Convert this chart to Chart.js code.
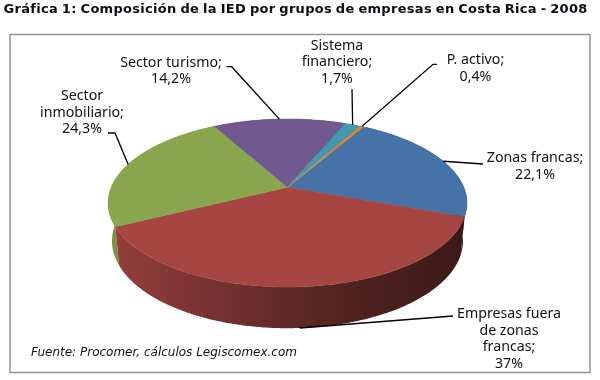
<!DOCTYPE html>
<html>
<head>
<meta charset="utf-8">
<style>
  html, body { margin: 0; padding: 0; background: #fff; }
  canvas { display: block; }
</style>
<script src="https://cdn.jsdelivr.net/npm/chart.js@4/dist/chart.umd.js"></script>
</head>
<body>
<canvas id="graficaIED" width="600" height="380"></canvas>
<script>
const titulo = 'Gráfica 1: Composición de la IED por grupos de empresas en Costa Rica - 2008';
const fuente = 'Fuente: Procomer, cálculos Legiscomex.com';

const categorias = ['Zonas francas', 'Empresas fuera de zonas francas', 'Sector inmobiliario', 'Sector turismo', 'Sistema financiero', 'P. activo'];
const valores = [22.1, 37, 24.3, 14.2, 1.7, 0.4];
const etiquetas = [
    ['Zonas francas;', '22,1%'],
    ['Empresas fuera', 'de zonas', 'francas;', '37%'],
    ['Sector', 'inmobiliario;', '24,3%'],
    ['Sector turismo;', '14,2%'],
    ['Sistema', 'financiero;', '1,7%'],
    ['P. activo;', '0,4%']
];
const colores = ['#4572A7', '#A54643', '#89A54E', '#71588F', '#4198AF', '#DB843D'];

// Posicion de cada etiqueta (centro de la primera linea) y codo de su linea guia
const posEtiquetas = [[535, 158], [509, 314], [82, 96], [171, 62.5], [337, 45.5], [475.5, 60]];
const guias = [
    [[483, 164]],
    [[453, 316]],
    [[108, 133], [115, 133]],
    [[226.5, 66.7], [231.7, 66.7]],
    [[352, 89]],
    [[437, 64.3], [433, 64.3]]
];

// Proyeccion en perspectiva del circulo: el vertice no cae en el centro de la elipse
const vertice = { x: 287.5, y: 187.3 };
const persp = { A: 176.3, B: 81.07, k: -0.187 };
const base = { y: 224.5, sx: 0.978, sy: 1.04 };

function proyectar(angulo, abajo) {
    const u = Math.cos(angulo), v = Math.sin(angulo);
    const w = 1 + persp.k * v;
    const x = persp.A * u / w, y = persp.B * v / w;
    if (abajo) return [vertice.x + x * base.sx, base.y + y * base.sy];
    return [vertice.x + x, vertice.y + y];
}

function oscurecer(hex, f) {
    const n = parseInt(hex.slice(1), 16);
    return `rgb(${Math.round((n >> 16) * f)},${Math.round(((n >> 8) & 255) * f)},${Math.round((n & 255) * f)})`;
}

function puntosArco(arco, abajo) {
    const pts = [];
    const pasos = Math.max(2, Math.ceil((arco.endAngle - arco.startAngle) / 0.01));
    for (let i = 0; i <= pasos; i++) {
        pts.push(proyectar(arco.startAngle + (arco.endAngle - arco.startAngle) * i / pasos, abajo));
    }
    return pts;
}

const pastel3D = {
    id: 'pastel3D',
    beforeDraw(chart) {
        const ctx = chart.ctx;
        ctx.save();
        ctx.fillStyle = '#fff';
        ctx.fillRect(0, 0, 600, 380);
        ctx.strokeStyle = '#929292';
        ctx.lineWidth = 1.5;
        ctx.strokeRect(10, 34.5, 580, 338);
        ctx.fillStyle = '#0c0c14';
        ctx.font = 'bold 13px "DejaVu Sans"';
        ctx.textBaseline = 'middle';
        ctx.letterSpacing = '0.3px';
        ctx.wordSpacing = '-1px';
        ctx.fillText(titulo, 3.5, 10);
        ctx.restore();
    },
    // Las porciones salen de los angulos que calcula el controlador de Chart.js
    beforeDatasetsDraw(chart) {
        const ctx = chart.ctx;
        const arcos = chart.getDatasetMeta(0).data;
        ctx.save();

        // paredes, de atras hacia adelante
        arcos.map((arco, i) => ({ arco, i }))
            .sort((a, b) => Math.sin((a.arco.startAngle + a.arco.endAngle) / 2) - Math.sin((b.arco.startAngle + b.arco.endAngle) / 2))
            .forEach(({ arco, i }) => {
                const grad = ctx.createLinearGradient(108, 0, 467, 0);
                grad.addColorStop(0, oscurecer(colores[i], 0.9));
                grad.addColorStop(0.35, oscurecer(colores[i], 0.68));
                grad.addColorStop(0.7, oscurecer(colores[i], 0.47));
                grad.addColorStop(1, oscurecer(colores[i], 0.36));
                const pts = puntosArco(arco, false).concat(puntosArco(arco, true).reverse());
                ctx.beginPath();
                pts.forEach((p, j) => j ? ctx.lineTo(p[0], p[1]) : ctx.moveTo(p[0], p[1]));
                ctx.closePath();
                ctx.fillStyle = grad;
                ctx.fill();
            });

        // caras superiores
        arcos.forEach((arco, i) => {
            ctx.beginPath();
            ctx.moveTo(vertice.x, vertice.y);
            puntosArco(arco, false).forEach(p => ctx.lineTo(p[0], p[1]));
            ctx.closePath();
            ctx.fillStyle = colores[i];
            ctx.strokeStyle = colores[i];
            ctx.lineWidth = 0.5;
            ctx.fill();
            ctx.stroke();
        });

        // lineas guia y etiquetas
        ctx.strokeStyle = '#000';
        ctx.lineWidth = 1.3;
        arcos.forEach((arco, i) => {
            const medio = (arco.startAngle + arco.endAngle) / 2;
            const fin = proyectar(medio, Math.sin(medio) > 0.9);
            ctx.beginPath();
            guias[i].forEach((p, j) => j ? ctx.lineTo(p[0], p[1]) : ctx.moveTo(p[0], p[1]));
            ctx.lineTo(fin[0], fin[1]);
            ctx.stroke();
        });

        ctx.fillStyle = '#111';
        ctx.font = '14.2px "Noto Sans"';
        ctx.textAlign = 'center';
        ctx.textBaseline = 'middle';
        etiquetas.forEach((lineas, i) => {
            lineas.forEach((txt, j) => ctx.fillText(txt, posEtiquetas[i][0], posEtiquetas[i][1] + j * 16.6));
        });

        ctx.textAlign = 'left';
        ctx.font = 'italic 12px "DejaVu Sans"';
        ctx.fillText(fuente, 31, 353);
        ctx.restore();
        return false;
    }
};

new Chart(document.getElementById('graficaIED'), {
    type: 'pie',
    data: {
        labels: categorias,
        datasets: [{ data: valores, backgroundColor: colores, borderWidth: 0 }]
    },
    options: {
        responsive: false,
        animation: false,
        rotation: 30.1,
        plugins: {
            legend: { display: false },
            tooltip: { enabled: false }
        }
    },
    plugins: [pastel3D]
});
</script>
</body>
</html>
